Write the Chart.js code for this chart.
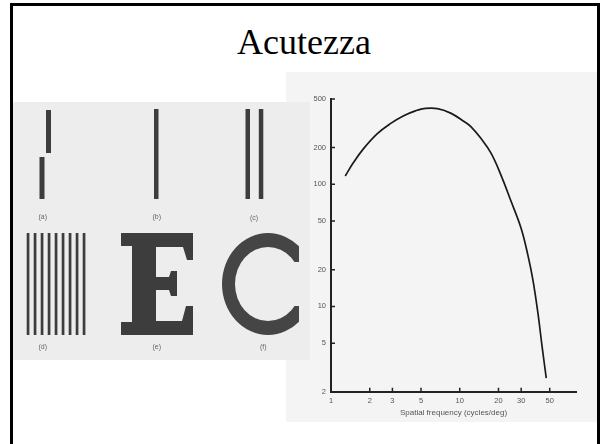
<!DOCTYPE html>
<html>
<head>
<meta charset="utf-8">
<script src="https://cdn.jsdelivr.net/npm/chart.js@4/dist/chart.umd.min.js"></script>
<style>
  html, body { margin: 0; padding: 0; background: #fff; }
  body { width: 602px; height: 444px; position: relative; overflow: hidden; }
  #frame { position: absolute; left: 10px; top: 3px; width: 584px; height: 470px;
           border: 3px solid #000; border-bottom: none; }
  #title { position: absolute; left: 0; top: 24px; width: 608px; text-align: center;
           font: 36px "Liberation Serif", "Times New Roman", serif; line-height: 36px; color: #000; }
  #plotPanel { position: absolute; left: 286px; top: 72px; width: 311px; height: 350px; background: #f4f4f4; }
  #chart { position: absolute; left: 286px; top: 72px; }
  #figure { position: absolute; left: 13px; top: 102px; }
</style>
</head>
<body>
<div id="frame"></div>
<div id="title">Acutezza</div>
<div id="plotPanel"></div>
<canvas id="chart" width="311" height="350"></canvas>
<canvas id="figure" width="297" height="258"></canvas>
<script>
// contrast sensitivity curve
const frequency = [1.29, 1.49, 1.79, 2.28, 2.89, 3.67, 4.67, 5.26, 6.7, 8.5, 10.8, 12.2, 14.6, 17.5, 20.9, 25, 30, 33.8, 37, 40.5, 43.5, 47];
const sensitivity = [117, 150, 196, 259, 314, 365, 404, 417, 417, 383, 327, 297, 238, 180, 119, 73, 43.5, 26.4, 16.5, 8.8, 4.8, 2.58];

const xTickValues = [1, 2, 3, 5, 10, 20, 30, 50];
const yTickValues = [2, 5, 10, 20, 50, 100, 200, 500];
const xTitle = "Spatial frequency (cycles/deg)";
const figureLabels = ["(a)", "(b)", "(c)", "(d)", "(e)", "(f)"];

const innerTicks = {
  id: "innerTicks",
  afterDraw(chart) {
    const { ctx, chartArea, scales } = chart;
    ctx.save();
    ctx.strokeStyle = "#222";
    ctx.lineWidth = 1.5;
    ctx.beginPath();
    scales.y.ticks.forEach(t => {
      if (t.value === yTickValues[0]) return;
      const py = scales.y.getPixelForValue(t.value);
      ctx.moveTo(chartArea.left, py);
      ctx.lineTo(chartArea.left + 4, py);
    });
    scales.x.ticks.forEach(t => {
      if (t.value === xTickValues[0]) return;
      const px = scales.x.getPixelForValue(t.value);
      ctx.moveTo(px, chartArea.bottom);
      ctx.lineTo(px, chartArea.bottom - 4);
    });
    ctx.stroke();
    ctx.restore();
  }
};

const tickFont = { family: "'Liberation Sans', Arial, sans-serif", size: 7.5 };

new Chart(document.getElementById("chart"), {
  type: "scatter",
  data: {
    datasets: [{
      data: frequency.map((f, i) => ({ x: f, y: sensitivity[i] })),
      showLine: true,
      borderColor: "#1a1a1a",
      borderWidth: 1.7,
      pointRadius: 0,
      tension: 0.4,
      fill: false
    }]
  },
  options: {
    responsive: false,
    animation: false,
    layout: { padding: { left: 0, right: 21, top: 27, bottom: 0.3 } },
    plugins: { legend: { display: false }, tooltip: { enabled: false } },
    scales: {
      x: {
        type: "logarithmic",
        min: 1,
        max: 80,
        bounds: "data",
        afterBuildTicks: s => { s.ticks = xTickValues.map(v => ({ value: v })); },
        afterFit: s => { s.height = 30; },
        ticks: {
          autoSkip: false, maxRotation: 0, padding: 5,
          color: "#555", font: tickFont,
          callback: v => String(v)
        },
        grid: { display: true, drawOnChartArea: false, drawTicks: false },
        border: { display: true, color: "#222", width: 2 },
        title: {
          display: true, text: xTitle, color: "#555",
          font: { family: "'Liberation Sans', Arial, sans-serif", size: 8 },
          padding: { top: 0, bottom: 4.6 }
        }
      },
      y: {
        type: "logarithmic",
        min: 2,
        max: 500,
        bounds: "data",
        afterBuildTicks: s => { s.ticks = yTickValues.map(v => ({ value: v })); },
        afterFit: s => { s.width = 45; },
        ticks: {
          autoSkip: false, padding: 5,
          color: "#555", font: tickFont,
          callback: v => String(v)
        },
        grid: { display: true, drawOnChartArea: false, drawTicks: false },
        border: { display: true, color: "#222", width: 2 }
      }
    }
  },
  plugins: [innerTicks]
});

// left illustration: acuity targets
(function drawFigure() {
  const c = document.getElementById("figure");
  const ctx = c.getContext("2d");
  ctx.fillStyle = "#ededed";
  ctx.fillRect(0, 0, c.width, c.height);
  ctx.translate(-13, -102);
  ctx.fillStyle = "#3d3d3d";
  // (a) vernier
  ctx.fillRect(46, 110, 5, 43);
  ctx.fillRect(39.5, 157, 5, 42);
  // (b) single line
  ctx.fillRect(154, 109, 4.5, 90);
  // (c) two lines
  ctx.fillRect(245.5, 109, 4.5, 90);
  ctx.fillRect(258.8, 109, 4.5, 90);
  // (d) grating
  for (let i = 0; i < 9; i++) ctx.fillRect(26.7 + 7 * i, 233, 2.7, 102);
  // (e) letter E
  const E = [[121,233],[193,233],[193,260],[187,260],[183,247],[156,247],[156,277],[169,277],[171,271],[177,271],
             [177,296],[171,296],[169,290],[156,290],[156,321],[182,321],[186,306],[193,306],[193,335],[121,335],
             [121,322],[132,322],[132,246],[121,246]];
  ctx.beginPath();
  E.forEach((p, i) => i ? ctx.lineTo(p[0], p[1]) : ctx.moveTo(p[0], p[1]));
  ctx.closePath();
  ctx.fill();
  // (f) letter C
  ctx.save();
  ctx.beginPath();
  ctx.rect(200, 220, 99, 130);
  ctx.clip();
  ctx.beginPath();
  ctx.ellipse(268, 284, 46, 51, 0, 0, Math.PI * 2);
  ctx.ellipse(268, 284, 33, 37, 0, 0, Math.PI * 2);
  ctx.fillStyle = "#454545";
  ctx.fill("evenodd");
  ctx.fillStyle = "#ededed";
  ctx.fillRect(270, 262, 40, 44);
  ctx.restore();
  // labels
  ctx.fillStyle = "#666";
  ctx.font = "7px 'Liberation Sans', Arial, sans-serif";
  ctx.textAlign = "center";
  ctx.textBaseline = "middle";
  const labelPos = [[42.7, 216.7], [156.7, 216.7], [254, 217.7], [42.7, 346.7], [156.7, 346.7], [263.3, 346.7]];
  figureLabels.forEach((t, i) => ctx.fillText(t, labelPos[i][0], labelPos[i][1]));
})();
</script>
</body>
</html>
